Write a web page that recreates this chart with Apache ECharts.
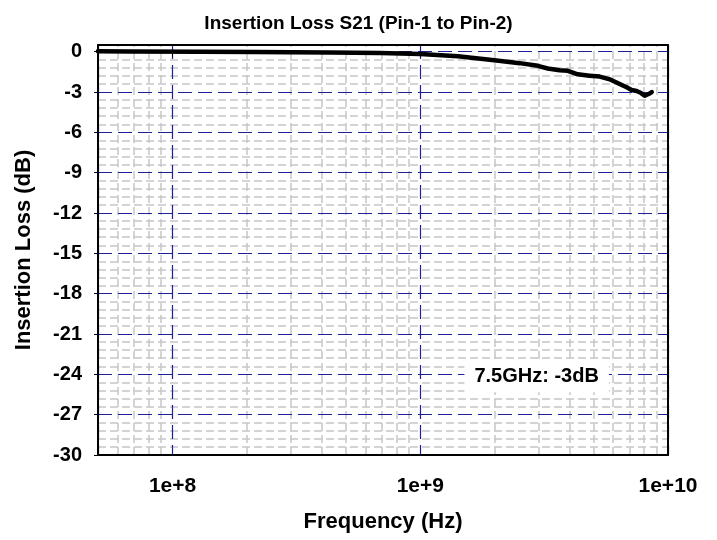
<!DOCTYPE html>
<html>
<head>
<meta charset="utf-8">
<script src="https://cdn.jsdelivr.net/npm/echarts@6/dist/echarts.min.js"></script>
<style>html,body{margin:0;padding:0;background:#fff}#c{width:717px;height:540px}</style>
</head>
<body>
<div id="c"></div>
<script>
// ---- data ----
var freqHz = [5e7, 6.7e7, 1.29e8, 2.14e8, 4.3e8, 6.9e8, 1e9, 1.42e9, 2.03e9, 2.52e9, 2.98e9, 3.27e9, 3.65e9, 3.94e9, 4.32e9, 4.82e9, 5.3e9, 5.87e9, 6.38e9, 6.81e9, 7.13e9, 7.47e9, 7.75e9, 8.05e9, 8.35e9, 8.6e9];
var lossDb = [0.03, 0.02, 0.0, -0.02, -0.06, -0.1, -0.17, -0.33, -0.65, -0.85, -1.05, -1.25, -1.38, -1.42, -1.68, -1.78, -1.85, -2.08, -2.4, -2.65, -2.85, -2.92, -3.05, -3.28, -3.15, -3.0];
var yTicks = [-30, -27, -24, -21, -18, -15, -12, -9, -6, -3, 0];
var xMinor = [6e7, 7e7, 8e7, 9e7, 2e8, 3e8, 4e8, 5e8, 6e8, 7e8, 8e8, 9e8, 2e9, 3e9, 4e9, 5e9, 6e9, 7e9, 8e9, 9e9];
var yMinorStep = 0.6;
var annotation = { text: '7.5GHz: -3dB', freq: 2.95e9, db: -24 };
var titleText = 'Insertion Loss S21 (Pin-1 to Pin-2)';
var xName = 'Frequency (Hz)';
var yName = 'Insertion Loss (dB)';

// ---- build ----
var yMinor = [];
for (var i = 0; i < yTicks.length - 1; i++) {
  for (var k = 1; k < 5; k++) yMinor.push(+(yTicks[i] + k * yMinorStep).toFixed(2));
}
var FONT = 'Arial, "Liberation Sans", sans-serif';
var NAVY = '#1e1e96';
var pts = freqHz.map(function (f, i) { return [f, lossDb[i]]; });

function borderAxis(pos) {
  return {
    type: 'value', position: pos, min: 0, max: 1, z: 5, silent: true,
    axisLine: { show: true, onZero: false, lineStyle: { color: '#000', width: 2 } },
    axisTick: { show: false }, axisLabel: { show: false }, splitLine: { show: false }
  };
}

var chart = echarts.init(document.getElementById('c'), null, { renderer: 'canvas' });
chart.setOption({
  animation: false,
  backgroundColor: '#fff',
  title: {
    text: titleText, left: 'center', top: 9,
    textStyle: { fontFamily: FONT, fontSize: 19, fontWeight: 'bold', color: '#000' }
  },
  grid: { left: 98, right: 49, top: 45, bottom: 85, show: false },
  xAxis: [{
    type: 'log', logBase: 10, min: 5e7, max: 1e10,
    name: xName, nameLocation: 'middle', nameGap: 56,
    nameTextStyle: { fontFamily: FONT, fontSize: 22, fontWeight: 'bold', color: '#000' },
    axisLine: { show: false },
    axisTick: { show: true, length: 5, lineStyle: { color: '#000' } },
    splitLine: { show: true, lineStyle: { color: NAVY, width: 1.2, type: [14, 6] } },
    axisLabel: {
      showMinLabel: false, margin: 21,
      fontFamily: FONT, fontSize: 21, fontWeight: 'bold', color: '#000',
      formatter: function (v) { return '1e+' + Math.round(Math.log10(v)); }
    }
  }, borderAxis('top'), borderAxis('bottom')],
  yAxis: [{
    type: 'value', min: -30, max: 0.5, interval: 3,
    name: yName, nameLocation: 'middle', nameGap: 63,
    nameTextStyle: { fontFamily: FONT, fontSize: 22, fontWeight: 'bold', color: '#000' },
    axisLine: { show: false },
    axisTick: { show: true, length: 4, lineStyle: { color: '#000' } },
    splitLine: { show: true, lineStyle: { color: NAVY, width: 1.2, type: [14, 6] } },
    axisLabel: {
      margin: 16, showMaxLabel: false,
      fontFamily: FONT, fontSize: 20, fontWeight: 'bold', color: '#000',
      formatter: function (v) { return (v % 3 === 0) ? String(v) : ''; }
    }
  }, borderAxis('right'), borderAxis('left')],
  series: [
    {
      type: 'line', data: [], silent: true, z: -1,
      markLine: {
        silent: true, symbol: 'none', animation: false, z: -1, label: { show: false },
        lineStyle: { color: '#c6c6c6', width: 1.5, type: [8, 4] },
        data: xMinor.map(function (v) { return { xAxis: v }; })
          .concat(yMinor.map(function (v) { return { yAxis: v }; }))
      }
    },
    {
      type: 'line', data: pts, showSymbol: false, silent: true, z: 10,
      lineStyle: { color: '#000', width: 4.5, join: 'round', cap: 'round' },
      markPoint: {
        silent: true, symbol: 'rect', symbolSize: 0, animation: false, z: 12,
        data: [{ coord: [annotation.freq, annotation.db] }],
        label: {
          show: true, position: 'inside', formatter: annotation.text, offset: [0, 2],
          backgroundColor: '#fff', padding: [6, 10],
          fontFamily: FONT, fontSize: 20, fontWeight: 'bold', color: '#000'
        }
      }
    }
  ]
});
</script>
</body>
</html>
